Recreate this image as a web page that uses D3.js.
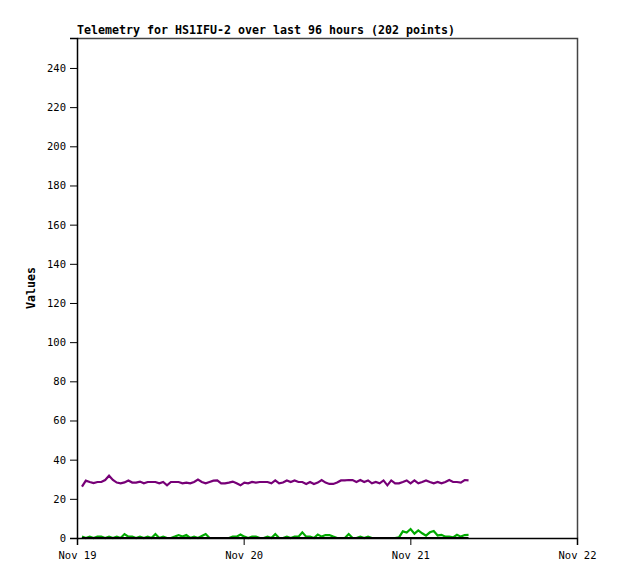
<!DOCTYPE html>
<html>
<head>
<meta charset="utf-8">
<script src="https://cdn.jsdelivr.net/npm/d3@7"></script>
<style>
body { margin: 0; background: #fff; }
text { font-family: "DejaVu Sans Mono", "Liberation Mono", monospace; }
</style>
</head>
<body>
<script>
// chart text
var title = "Telemetry for HS1IFU-2 over last 96 hours (202 points)";
var yLabel = "Values";

// x range and ticks
var startTime = new Date(2024, 10, 19, 0, 0);
var endTime = new Date(2024, 10, 22, 0, 0);
var firstSample = new Date(2024, 10, 19, 0, 43);
var sampleMinutes = 33.4;
var xTickDates = [new Date(2024, 10, 19), new Date(2024, 10, 20), new Date(2024, 10, 21), new Date(2024, 10, 22)];
var yTicks = [0, 20, 40, 60, 80, 100, 120, 140, 160, 180, 200, 220, 240];

// series values
var purple = [
  26.2, 29.3, 28.6, 28.0, 28.6, 28.6, 29.6, 31.8, 29.6, 28.3,
  27.9, 28.4, 29.4, 28.3, 28.3, 28.8, 27.9, 28.6, 28.6, 28.6,
  27.9, 28.6, 26.9, 28.6, 28.6, 28.6, 27.9, 28.3, 27.9, 28.6,
  29.8, 28.6, 27.9, 28.6, 29.3, 29.4, 27.9, 27.9, 28.3, 28.8,
  27.9, 26.9, 28.3, 27.9, 28.6, 28.3, 28.6, 28.6, 28.6, 27.9,
  29.4, 27.9, 28.3, 29.4, 28.6, 29.4, 28.6, 28.6, 27.6, 28.6,
  27.6, 28.3, 29.6, 28.3, 27.6, 27.6, 28.3, 29.4, 29.4, 29.6,
  29.6, 28.6, 29.6, 28.6, 29.4, 27.9, 28.6, 27.9, 29.4, 26.9,
  29.4, 27.9, 27.9, 28.6, 29.4, 27.9, 29.4, 27.9, 28.6, 29.4,
  28.6, 27.9, 28.6, 27.9, 28.6, 29.6, 28.6, 28.6, 28.3, 29.6,
  29.4
];
var green = [
  0.7, 0, 0.7, 0, 0.7, 0.7, 0, 0.7, 0, 0.7,
  0, 2.0, 0.7, 0.7, 0, 0.7, 0, 0.7, 0, 2.0,
  0, 0.7, 0, 0, 0.7, 1.5, 0.7, 1.5, 0, 0.7,
  0, 1.0, 2.0, 0, 0, 0, 0, 0, 0, 0.7,
  0.7, 1.8, 0.7, 0, 0.7, 0.7, 0, 0, 0.7, 0,
  2.0, 0, 0, 0.7, 0, 0.7, 0.7, 2.9, 0.7, 0.7,
  0, 1.8, 0.7, 1.5, 1.5, 0.7, 0, 0, 0, 2.0,
  0, 0, 0.7, 0, 0.7, 0, 0, 0, 0, 0,
  0, 0, 0.3, 3.4, 2.8, 4.6, 2.2, 3.9, 2.4, 1.2,
  2.9, 3.6, 1.3, 1.6, 0.7, 0.7, 0.3, 1.6, 0.7, 1.5,
  1.6
];
var black = [
  0, 0, 0, 0, 0, 0, 0, 0, 0, 0, 0, 0, 0, 0, 0, 0, 0, 0, 0, 0,
  0, 0, 0, 0, 0, 0, 0, 0, 0, 0, 0, 0, 0, 0, 0, 0, 0, 0, 0, 0,
  0, 0, 0, 0, 0, 0, 0, 0, 0, 0, 0, 0, 0, 0, 0, 0, 0, 0, 0, 0,
  0, 0, 0, 0, 0, 0, 0, 0, 0, 0, 0, 0, 0, 0, 0, 0, 0, 0, 0, 0,
  0, 0, 0, 0, 0, 0, 0, 0, 0, 0, 0, 0, 0, 0, 0, 0, 0, 0, 0, 0,
  0
];
var seriesColors = ["#770077", "#00aa00", "#000000"];

// sample times
var times = purple.map(function(d, i) {
  return new Date(firstSample.getTime() + i * sampleMinutes * 60000);
});

var width = 618, height = 579;
var margin = { top: 38, right: 41, bottom: 41, left: 77 };
var w = width - margin.left - margin.right,
    h = height - margin.top - margin.bottom;

var svg = d3.select("body").append("svg")
  .attr("width", width)
  .attr("height", height);

var x = d3.scaleTime().domain([startTime, endTime]).range([0, w]);
var y = d3.scaleLinear().domain([0, 255.3]).range([h, 0]);

var g = svg.append("g")
  .attr("transform", "translate(" + margin.left + "," + margin.top + ")");

// frame (top and right in grey)
g.append("path")
  .attr("d", "M0.5,0.5H" + (w + 0.5) + "V" + h)
  .attr("fill", "none")
  .attr("stroke", "#444")
  .attr("stroke-width", 1.5);

// y axis
var yAxis = d3.axisLeft(y).tickValues(yTicks).tickSize(7).tickPadding(4);
var ya = g.append("g").call(yAxis);
ya.select(".domain").attr("stroke", "#000").attr("stroke-width", 1.5);
ya.selectAll(".tick text").attr("font-size", "10.5px").attr("fill", "#000")
  .attr("font-family", "DejaVu Sans Mono");

// x axis
var xAxis = d3.axisBottom(x).tickValues(xTickDates).tickSize(7).tickPadding(7)
  .tickFormat(d3.timeFormat("%b %d"));
var xa = g.append("g").attr("transform", "translate(0," + h + ")").call(xAxis);
xa.select(".domain").attr("stroke", "#000").attr("stroke-width", 1.5);
xa.selectAll(".tick text").attr("font-size", "10.5px").attr("fill", "#000")
  .attr("font-family", "DejaVu Sans Mono");

// lines
var line = d3.line()
  .x(function(d, i) { return x(times[i]); })
  .y(function(d) { return y(d); });

[purple, green, black].forEach(function(s, k) {
  g.append("path")
    .datum(s)
    .attr("d", line)
    .attr("fill", "none")
    .attr("stroke", seriesColors[k])
    .attr("stroke-width", 2.2)
    .attr("stroke-linejoin", "miter");
});

// title
svg.append("text")
  .attr("x", margin.left)
  .attr("y", 34)
  .attr("font-size", "11.6px")
  .attr("font-weight", "bold")
  .attr("textLength", 378)
  .attr("lengthAdjust", "spacingAndGlyphs")
  .text(title);

// y label
svg.append("text")
  .attr("transform", "translate(35," + (margin.top + h / 2) + ") rotate(-90)")
  .attr("text-anchor", "middle")
  .attr("font-size", "11.6px")
  .attr("font-weight", "bold")
  .text(yLabel);
</script>
</body>
</html>
